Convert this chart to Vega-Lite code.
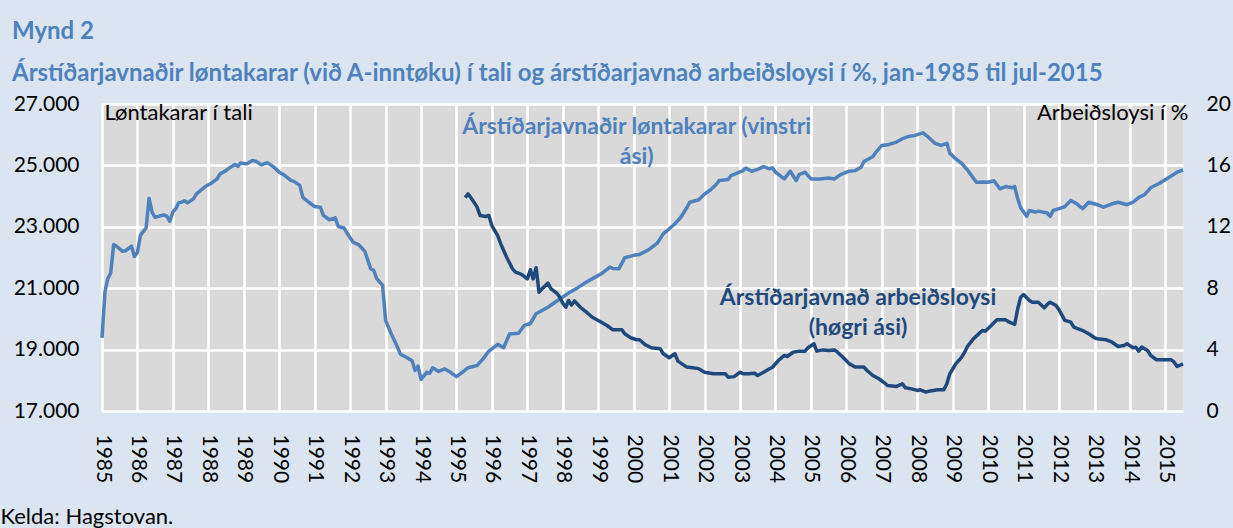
{
  "$schema": "https://vega.github.io/schema/vega-lite/v6.json",
  "width": 1081,
  "height": 307,
  "autosize": {"type": "none"},
  "padding": {"left": 102, "top": 104, "right": 50, "bottom": 117},
  "background": "#dbe5f1",
  "config": {
    "view": {"fill": "#d9d9d9", "stroke": null},
    "font": "Lato",
    "axis": {"labelFont": "Lato", "titleFont": "Lato", "labelColor": "#000000", "titleColor": "#000000", "ticks": false, "domain": false, "labelFontSize": 21, "titleFontSize": 21, "titleFontWeight": "normal", "gridColor": "#ffffff", "gridWidth": 2.5, "gridOpacity": 1}
  },
  "title": {
    "text": ["Mynd 2", "Árstíðarjavnaðir løntakarar (við A-inntøku) í tali og árstíðarjavnað arbeiðsloysi í %, jan-1985 til jul-2015"],
    "anchor": "start",
    "frame": "group",
    "dx": -90,
    "offset": 7,
    "font": "Lato",
    "fontSize": 24,
    "fontWeight": "bold",
    "color": "#4f81bd",
    "lineHeight": 42
  },
  "datasets": {
    "emp": [
      {"d":"1985-01-01","v":19380},{"d":"1985-02-01","v":20900},{"d":"1985-03-01","v":21300},{"d":"1985-04-01","v":21500},{"d":"1985-05-01","v":22420},{"d":"1985-06-01","v":22360},{"d":"1985-08-01","v":22200},{"d":"1985-09-01","v":22220},{"d":"1985-11-01","v":22370},{"d":"1985-12-01","v":22030},
      {"d":"1986-01-01","v":22170},{"d":"1986-02-01","v":22720},{"d":"1986-04-01","v":22970},{"d":"1986-05-01","v":23930},{"d":"1986-06-01","v":23480},{"d":"1986-07-01","v":23310},{"d":"1986-10-01","v":23390},{"d":"1986-11-01","v":23340},{"d":"1986-12-01","v":23180},
      {"d":"1987-01-01","v":23480},{"d":"1987-02-01","v":23590},{"d":"1987-03-01","v":23780},{"d":"1987-04-01","v":23800},{"d":"1987-05-01","v":23850},{"d":"1987-06-01","v":23780},{"d":"1987-08-01","v":23910},{"d":"1987-09-01","v":24070},{"d":"1987-10-01","v":24150},{"d":"1987-12-01","v":24310},
      {"d":"1988-02-01","v":24420},{"d":"1988-04-01","v":24560},{"d":"1988-05-01","v":24720},{"d":"1988-07-01","v":24830},{"d":"1988-08-01","v":24910},{"d":"1988-10-01","v":25030},{"d":"1988-11-01","v":24970},{"d":"1988-12-01","v":25080},
      {"d":"1989-02-01","v":25050},{"d":"1989-04-01","v":25160},{"d":"1989-05-01","v":25140},{"d":"1989-07-01","v":25020},{"d":"1989-09-01","v":25090},{"d":"1989-11-01","v":24960},
      {"d":"1990-01-01","v":24780},{"d":"1990-03-01","v":24670},{"d":"1990-05-01","v":24510},{"d":"1990-06-01","v":24480},{"d":"1990-08-01","v":24350},{"d":"1990-09-01","v":23960},{"d":"1990-11-01","v":23800},
      {"d":"1991-01-01","v":23660},{"d":"1991-03-01","v":23640},{"d":"1991-04-01","v":23370},{"d":"1991-06-01","v":23230},{"d":"1991-08-01","v":23290},{"d":"1991-09-01","v":23010},{"d":"1991-11-01","v":22960},{"d":"1991-12-01","v":22790},
      {"d":"1992-02-01","v":22500},{"d":"1992-04-01","v":22410},{"d":"1992-06-01","v":22200},{"d":"1992-08-01","v":21630},{"d":"1992-09-01","v":21580},{"d":"1992-10-01","v":21310},{"d":"1992-12-01","v":21090},
      {"d":"1993-01-01","v":19950},{"d":"1993-03-01","v":19510},{"d":"1993-05-01","v":19100},{"d":"1993-06-01","v":18860},{"d":"1993-08-01","v":18750},{"d":"1993-10-01","v":18640},{"d":"1993-11-01","v":18320},{"d":"1993-12-01","v":18460},
      {"d":"1994-01-01","v":18030},{"d":"1994-03-01","v":18260},{"d":"1994-04-01","v":18230},{"d":"1994-05-01","v":18410},{"d":"1994-07-01","v":18290},{"d":"1994-09-01","v":18370},{"d":"1994-11-01","v":18260},
      {"d":"1995-01-01","v":18120},{"d":"1995-03-01","v":18260},{"d":"1995-05-01","v":18410},{"d":"1995-08-01","v":18480},{"d":"1995-10-01","v":18700},{"d":"1995-12-01","v":18950},
      {"d":"1996-03-01","v":19170},{"d":"1996-05-01","v":19060},{"d":"1996-07-01","v":19510},{"d":"1996-10-01","v":19530},{"d":"1996-12-01","v":19790},
      {"d":"1997-02-01","v":19850},{"d":"1997-04-01","v":20170},{"d":"1997-08-01","v":20380},{"d":"1997-12-01","v":20650},
      {"d":"1998-03-01","v":20840},{"d":"1998-06-01","v":21010},{"d":"1998-09-01","v":21200},{"d":"1998-12-01","v":21360},
      {"d":"1999-02-01","v":21470},{"d":"1999-05-01","v":21690},{"d":"1999-06-01","v":21640},{"d":"1999-08-01","v":21630},{"d":"1999-10-01","v":21990},
      {"d":"2000-01-01","v":22070},{"d":"2000-03-01","v":22100},{"d":"2000-06-01","v":22250},{"d":"2000-09-01","v":22470},{"d":"2000-11-01","v":22770},
      {"d":"2001-01-01","v":22930},{"d":"2001-03-01","v":23100},{"d":"2001-05-01","v":23310},{"d":"2001-07-01","v":23620},{"d":"2001-08-01","v":23800},{"d":"2001-11-01","v":23880},
      {"d":"2002-01-01","v":24070},{"d":"2002-03-01","v":24200},{"d":"2002-05-01","v":24380},{"d":"2002-06-01","v":24510},{"d":"2002-09-01","v":24540},{"d":"2002-10-01","v":24670},{"d":"2002-12-01","v":24750},
      {"d":"2003-02-01","v":24830},{"d":"2003-03-01","v":24910},{"d":"2003-05-01","v":24810},{"d":"2003-07-01","v":24870},{"d":"2003-09-01","v":24960},{"d":"2003-11-01","v":24890},{"d":"2003-12-01","v":24920},
      {"d":"2004-01-01","v":24780},{"d":"2004-04-01","v":24560},{"d":"2004-06-01","v":24810},{"d":"2004-08-01","v":24510},{"d":"2004-09-01","v":24700},{"d":"2004-11-01","v":24780},
      {"d":"2005-01-01","v":24560},{"d":"2005-04-01","v":24560},{"d":"2005-07-01","v":24590},{"d":"2005-09-01","v":24560},{"d":"2005-11-01","v":24700},
      {"d":"2006-02-01","v":24810},{"d":"2006-04-01","v":24830},{"d":"2006-06-01","v":24940},{"d":"2006-07-01","v":25130},{"d":"2006-10-01","v":25290},{"d":"2006-11-01","v":25430},
      {"d":"2007-01-01","v":25650},{"d":"2007-03-01","v":25670},{"d":"2007-06-01","v":25760},{"d":"2007-08-01","v":25870},{"d":"2007-10-01","v":25940},{"d":"2007-12-01","v":25970},
      {"d":"2008-01-01","v":26000},{"d":"2008-03-01","v":26060},{"d":"2008-05-01","v":25900},{"d":"2008-07-01","v":25720},{"d":"2008-09-01","v":25650},{"d":"2008-11-01","v":25720},{"d":"2008-12-01","v":25400},
      {"d":"2009-02-01","v":25210},{"d":"2009-04-01","v":25070},{"d":"2009-06-01","v":24850},{"d":"2009-09-01","v":24450},{"d":"2009-11-01","v":24460},
      {"d":"2010-01-01","v":24450},{"d":"2010-03-01","v":24500},{"d":"2010-05-01","v":24240},{"d":"2010-07-01","v":24310},{"d":"2010-09-01","v":24270},{"d":"2010-10-01","v":24310},{"d":"2010-11-01","v":23910},{"d":"2010-12-01","v":23620},
      {"d":"2011-02-01","v":23340},{"d":"2011-03-01","v":23530},{"d":"2011-05-01","v":23480},{"d":"2011-06-01","v":23510},{"d":"2011-09-01","v":23450},{"d":"2011-10-01","v":23340},{"d":"2011-11-01","v":23530},
      {"d":"2012-01-01","v":23590},{"d":"2012-03-01","v":23660},{"d":"2012-05-01","v":23860},{"d":"2012-07-01","v":23750},{"d":"2012-09-01","v":23590},{"d":"2012-11-01","v":23800},
      {"d":"2013-02-01","v":23720},{"d":"2013-04-01","v":23640},{"d":"2013-07-01","v":23750},{"d":"2013-09-01","v":23800},{"d":"2013-12-01","v":23720},
      {"d":"2014-02-01","v":23800},{"d":"2014-04-01","v":23960},{"d":"2014-06-01","v":24050},{"d":"2014-08-01","v":24270},{"d":"2014-11-01","v":24420},
      {"d":"2015-02-01","v":24600},{"d":"2015-05-01","v":24780},{"d":"2015-07-01","v":24850}
    ],
    "unemp": [
      {"d":"1995-04-01","v":13.9},{"d":"1995-05-01","v":14.15},{"d":"1995-07-01","v":13.6},{"d":"1995-08-01","v":13.3},{"d":"1995-09-01","v":12.74},{"d":"1995-11-01","v":12.67},{"d":"1995-12-01","v":12.74},
      {"d":"1996-01-01","v":12.08},{"d":"1996-03-01","v":11.43},{"d":"1996-04-01","v":10.9},{"d":"1996-06-01","v":10.02},{"d":"1996-08-01","v":9.26},{"d":"1996-09-01","v":9.05},{"d":"1996-11-01","v":8.9},
      {"d":"1997-01-01","v":8.61},{"d":"1997-02-01","v":9.2},{"d":"1997-03-01","v":8.61},{"d":"1997-04-01","v":9.33},{"d":"1997-05-01","v":7.74},{"d":"1997-06-01","v":7.96},{"d":"1997-08-01","v":8.33},{"d":"1997-09-01","v":7.96},{"d":"1997-11-01","v":7.67},{"d":"1997-12-01","v":7.41},
      {"d":"1998-01-01","v":7.02},{"d":"1998-02-01","v":6.76},{"d":"1998-03-01","v":7.2},{"d":"1998-04-01","v":6.91},{"d":"1998-05-01","v":7.17},{"d":"1998-07-01","v":6.76},{"d":"1998-09-01","v":6.44},{"d":"1998-11-01","v":6.11},
      {"d":"1999-01-01","v":5.9},{"d":"1999-04-01","v":5.57},{"d":"1999-06-01","v":5.29},{"d":"1999-09-01","v":5.29},{"d":"1999-10-01","v":5.03},{"d":"1999-12-01","v":4.77},
      {"d":"2000-02-01","v":4.64},{"d":"2000-03-01","v":4.64},{"d":"2000-05-01","v":4.31},{"d":"2000-07-01","v":4.12},{"d":"2000-10-01","v":4.05},{"d":"2000-11-01","v":3.73},
      {"d":"2001-01-01","v":3.47},{"d":"2001-03-01","v":3.73},{"d":"2001-04-01","v":3.25},{"d":"2001-07-01","v":2.86},{"d":"2001-09-01","v":2.82},{"d":"2001-11-01","v":2.76},
      {"d":"2002-01-01","v":2.53},{"d":"2002-04-01","v":2.43},{"d":"2002-06-01","v":2.43},{"d":"2002-08-01","v":2.43},{"d":"2002-09-01","v":2.2},{"d":"2002-11-01","v":2.24},
      {"d":"2003-01-01","v":2.53},{"d":"2003-02-01","v":2.43},{"d":"2003-04-01","v":2.42},{"d":"2003-06-01","v":2.46},{"d":"2003-07-01","v":2.31},{"d":"2003-09-01","v":2.53},{"d":"2003-11-01","v":2.75},{"d":"2003-12-01","v":2.85},
      {"d":"2004-02-01","v":3.29},{"d":"2004-04-01","v":3.62},{"d":"2004-05-01","v":3.55},{"d":"2004-07-01","v":3.83},{"d":"2004-09-01","v":3.9},{"d":"2004-11-01","v":3.9},{"d":"2004-12-01","v":4.12},
      {"d":"2005-02-01","v":4.38},{"d":"2005-03-01","v":3.9},{"d":"2005-05-01","v":3.98},{"d":"2005-07-01","v":3.94},{"d":"2005-09-01","v":3.98},{"d":"2005-10-01","v":3.83},{"d":"2005-12-01","v":3.47},
      {"d":"2006-02-01","v":3.07},{"d":"2006-04-01","v":2.86},{"d":"2006-07-01","v":2.86},{"d":"2006-08-01","v":2.64},{"d":"2006-10-01","v":2.31},{"d":"2006-12-01","v":2.1},
      {"d":"2007-02-01","v":1.81},{"d":"2007-03-01","v":1.66},{"d":"2007-06-01","v":1.6},{"d":"2007-08-01","v":1.77},{"d":"2007-09-01","v":1.51},{"d":"2007-11-01","v":1.44},
      {"d":"2008-01-01","v":1.34},{"d":"2008-02-01","v":1.38},{"d":"2008-04-01","v":1.23},{"d":"2008-05-01","v":1.29},{"d":"2008-08-01","v":1.38},{"d":"2008-10-01","v":1.38},{"d":"2008-11-01","v":1.77},{"d":"2008-12-01","v":2.42},
      {"d":"2009-02-01","v":3.07},{"d":"2009-04-01","v":3.5},{"d":"2009-05-01","v":3.8},{"d":"2009-06-01","v":4.2},{"d":"2009-08-01","v":4.7},{"d":"2009-11-01","v":5.24},{"d":"2009-12-01","v":5.2},
      {"d":"2010-02-01","v":5.57},{"d":"2010-04-01","v":5.94},{"d":"2010-07-01","v":5.94},{"d":"2010-08-01","v":5.8},{"d":"2010-10-01","v":5.64},{"d":"2010-11-01","v":6.66},{"d":"2010-12-01","v":7.41},
      {"d":"2011-01-01","v":7.59},{"d":"2011-03-01","v":7.2},{"d":"2011-04-01","v":7.09},{"d":"2011-06-01","v":7.09},{"d":"2011-08-01","v":6.72},{"d":"2011-09-01","v":6.94},{"d":"2011-10-01","v":7.09},{"d":"2011-12-01","v":6.87},
      {"d":"2012-01-01","v":6.59},{"d":"2012-03-01","v":5.9},{"d":"2012-05-01","v":5.79},{"d":"2012-06-01","v":5.46},{"d":"2012-09-01","v":5.24},{"d":"2012-11-01","v":5.03},
      {"d":"2013-01-01","v":4.77},{"d":"2013-02-01","v":4.7},{"d":"2013-05-01","v":4.64},{"d":"2013-07-01","v":4.48},{"d":"2013-09-01","v":4.2},{"d":"2013-11-01","v":4.27},{"d":"2013-12-01","v":4.38},
      {"d":"2014-02-01","v":4.12},{"d":"2014-03-01","v":4.16},{"d":"2014-04-01","v":3.9},{"d":"2014-05-01","v":4.16},{"d":"2014-07-01","v":3.94},{"d":"2014-08-01","v":3.62},{"d":"2014-10-01","v":3.34},{"d":"2014-12-01","v":3.34},
      {"d":"2015-03-01","v":3.34},{"d":"2015-04-01","v":3.18},{"d":"2015-05-01","v":2.9},{"d":"2015-07-01","v":3.07}
    ]
  },
  "encoding": {
    "x": {
      "field": "d",
      "type": "temporal",
      "scale": {"domain": ["1985-01-01", "2015-07-01"]},
      "axis": {
        "tickCount": {"interval": "year", "step": 1},
        "format": "%Y",
        "labelAngle": 90,
        "labelPadding": 23,
        "labelOverlap": false,
        "labelBound": false,
        "labelFlush": false,
        "grid": true,
        "gridColor": "#ffffff",
        "gridWidth": 2.5,
        "title": "Kelda: Hagstovan.",
        "titleFontSize": 22,
        "titleX": -102,
        "titleY": 105,
        "titleAlign": "left",
        "titleBaseline": "middle",
        "titleAnchor": null
      }
    }
  },
  "layer": [
    {
      "encoding": {
        "y": {
          "field": "v",
          "type": "quantitative",
          "scale": {"domain": [17000, 27000], "nice": false, "zero": false},
          "axis": {
            "values": [17000, 19000, 21000, 23000, 25000, 27000],
            "labelExpr": "replace(format(datum.value, ','), ',', '.')",
            "labelPadding": 23,
            "grid": true,
            "gridColor": "#ffffff",
            "gridWidth": 2.5,
            "title": "Løntakarar í tali",
            "titleFontSize": 22,
            "titleAngle": 0,
            "titleX": 2,
            "titleY": 15,
            "titleAlign": "left",
            "titleBaseline": "alphabetic",
            "titleAnchor": null
          }
        }
      },
      "layer": [
        {
          "data": {"name": "emp"},
          "mark": {"type": "line", "color": "#4f81bd", "strokeWidth": 3.5, "strokeJoin": "round"}
        },
        {
          "data": {"values": [{"d": "2000-02-01", "v": 26240, "t": "Árstíðarjavnaðir  løntakarar  (vinstri\nási)"}]},
          "mark": {"type": "text", "font": "Lato", "fontWeight": "bold", "fontSize": 23, "color": "#4f81bd", "lineBreak": "\n", "lineHeight": 30, "align": "center", "baseline": "middle"},
          "encoding": {"text": {"field": "t"}}
        }
      ]
    },
    {
      "encoding": {
        "y": {
          "field": "v",
          "type": "quantitative",
          "scale": {"domain": [0, 20], "nice": false},
          "axis": {
            "orient": "right",
            "values": [0, 4, 8, 12, 16, 20],
            "labelPadding": 23,
            "grid": false,
            "title": "Arbeiðsloysi í %",
            "titleFontSize": 22,
            "titleAngle": 0,
            "titleX": 5,
            "titleY": 15,
            "titleAlign": "right",
            "titleBaseline": "alphabetic",
            "titleAnchor": null
          }
        }
      },
      "layer": [
        {
          "data": {"name": "unemp"},
          "mark": {"type": "line", "color": "#1f497d", "strokeWidth": 3.5, "strokeJoin": "round"}
        },
        {
          "data": {"values": [{"d": "2006-05-01", "v": 7.39, "t": "Árstíðarjavnað  arbeiðsloysi\n(høgri ási)"}]},
          "mark": {"type": "text", "font": "Lato", "fontWeight": "bold", "fontSize": 23, "color": "#1f497d", "lineBreak": "\n", "lineHeight": 30, "align": "center", "baseline": "middle"},
          "encoding": {"text": {"field": "t"}}
        }
      ]
    }
  ],
  "resolve": {"scale": {"y": "independent"}}
}
